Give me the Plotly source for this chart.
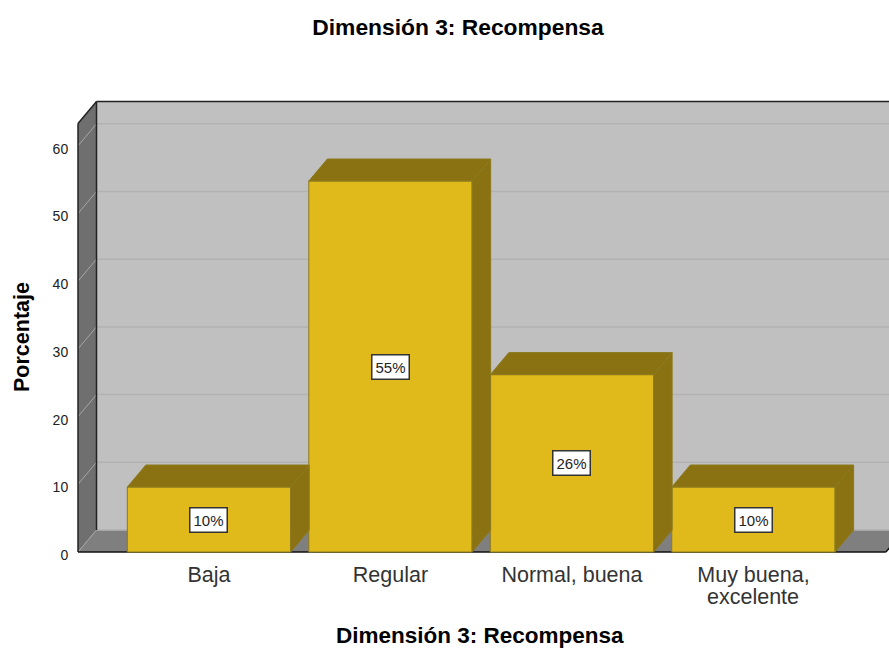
import plotly.graph_objects as go

titulo = 'Dimensión 3: Recompensa'
categorias = ['Baja', 'Regular', 'Normal, buena', 'Muy buena,']
segunda_linea = 'excelente'
porcentajes = [9.6, 54.8, 26.2, 9.6]
etiquetas = ['10%', '55%', '26%', '10%']
ticks_y = [0, 10, 20, 30, 40, 50, 60]

# profundidad del efecto 3D, en unidades de los ejes
prof_x = 0.102
prof_y = 3.25
ancho = 0.9
media = ancho / 2
izq = -0.7218
der = 3.73
techo = 63.3

AMARILLO = '#E0BA1A'
OSCURO = '#8A7213'
BORDE = '#8C7A1E'
x_pos = list(range(len(categorias)))

M_IZQ, M_TOP, ANCHO_PLOT, ALTO_PLOT = 76, 100, 813, 454


def paper_x(px):
    return (px - M_IZQ) / ANCHO_PLOT


def paper_y(py):
    return 1 - (py - M_TOP) / ALTO_PLOT


def poligono(xs, ys, color):
    return go.Scatter(x=xs + xs[:1], y=ys + ys[:1], mode='lines', fill='toself', fillcolor=color,
                      line=dict(color=BORDE, width=1), hoverinfo='skip', showlegend=False)


def pared(xs, ys, color):
    path = 'M ' + ' L '.join(f'{a} {b}' for a, b in zip(xs, ys)) + ' Z'
    return dict(type='path', path=path, fillcolor=color, line=dict(width=0), layer='below')


def linea(x0, y0, x1, y1, color, width=1):
    return dict(type='line', x0=x0, y0=y0, x1=x1, y1=y1, line=dict(color=color, width=width), layer='below')


fig = go.Figure()
fig.add_trace(go.Bar(x=x_pos, y=porcentajes, width=ancho, marker=dict(color=AMARILLO, line=dict(color=BORDE, width=1)),
                     hovertemplate='%{y}<extra></extra>', showlegend=False))

for x, v in zip(x_pos, porcentajes):
    # cara lateral y cara superior
    fig.add_trace(poligono([x + media, x + media + prof_x, x + media + prof_x, x + media],
                           [0, prof_y, v + prof_y, v], OSCURO))
    fig.add_trace(poligono([x - media, x + media, x + media + prof_x, x - media + prof_x],
                           [v, v, v + prof_y, v + prof_y], OSCURO))

formas = [
    pared([izq + prof_x, der + 2 * prof_x, der + 2 * prof_x, izq + prof_x],
          [prof_y, prof_y, techo + prof_y, techo + prof_y], '#C0C0C0'),
    pared([izq, izq + prof_x, izq + prof_x, izq], [0, prof_y, techo + prof_y, techo], '#6F6F6F'),
    pared([izq, der, der + prof_x, izq + prof_x], [0, 0, prof_y, prof_y], '#7F7F7F'),
]
for t in ticks_y:
    formas.append(linea(izq + prof_x, t + prof_y, der + 2 * prof_x, t + prof_y, '#B2B2B2', 1.5))
    formas.append(linea(izq, t, izq + prof_x, t + prof_y, '#A6A6A6', 1))
formas += [
    linea(izq, 0, der, 0, '#111111', 1.5),
    linea(der, 0, der + prof_x, prof_y, '#111111', 1.5),
    linea(izq, 0, izq, techo, '#222222', 1.5),
    linea(izq, techo, izq + prof_x, techo + prof_y, '#222222', 1.5),
    linea(izq + prof_x, techo + prof_y, der + 2 * prof_x, techo + prof_y, '#222222', 1.5),
    linea(izq + prof_x, prof_y, izq + prof_x, techo + prof_y, '#222222', 1.5),
]

notas = []
for x, v, e in zip(x_pos, porcentajes, etiquetas):
    notas.append(dict(x=x, y=v / 2, text=e, showarrow=False, bgcolor='white', bordercolor='#333333',
                      borderwidth=1.5, borderpad=3, font=dict(size=15, color='#222222')))
notas.append(dict(x=paper_x(480), y=paper_y(635), xref='paper', yref='paper', text=f'<b>{titulo}</b>',
                  showarrow=False, yanchor='middle', font=dict(size=22.5, color='black')))
notas.append(dict(x=paper_x(22), y=paper_y(337), xref='paper', yref='paper', text='<b>Porcentaje</b>',
                  showarrow=False, textangle=-90, xanchor='center', yanchor='middle',
                  font=dict(size=21.5, color='black')))
notas.append(dict(x=x_pos[-1], y=paper_y(597), yref='paper', text=segunda_linea, showarrow=False, yanchor='middle',
                  font=dict(size=21.5, color='#333333')))

fig.update_layout(
    width=889, height=648,
    margin=dict(l=M_IZQ, r=0, t=M_TOP, b=94),
    paper_bgcolor='white', plot_bgcolor='white',
    font=dict(family='Liberation Sans, Arial, sans-serif'),
    title=dict(text=f'<b>{titulo}</b>', x=458 / 889, xanchor='center', y=1 - 27 / 648, yanchor='middle',
               font=dict(size=22.8, color='black')),
    shapes=formas, annotations=notas, showlegend=False,
)
fig.update_xaxes(range=[-0.7328, 3.747], tickmode='array', tickvals=x_pos, ticktext=categorias, showgrid=False,
                 zeroline=False, showline=False, ticks='outside', ticklen=1, tickcolor='rgba(0,0,0,0)',
                 tickfont=dict(size=21.5, color='#333333'))
fig.update_yaxes(range=[-0.295, 66.765], tickmode='array', tickvals=ticks_y, showgrid=False, zeroline=False,
                 showline=False, ticks='outside', ticklen=4, tickcolor='rgba(0,0,0,0)', ticklabelshift=3,
                 tickfont=dict(size=14, color='#222222'))

fig.write_html('out.html', config={'displayModeBar': False},
               post_script="document.body.style.margin='0';document.body.style.overflow='hidden';")
